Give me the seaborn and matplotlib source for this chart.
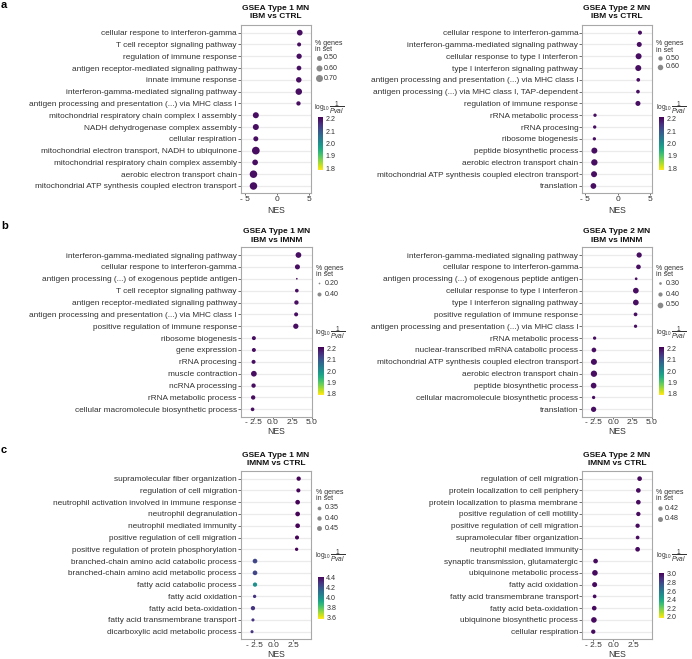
import numpy as np
import pandas as pd
import matplotlib
matplotlib.use("Agg")
import matplotlib.pyplot as plt
import matplotlib.colors as mcolors
import seaborn as sns

# ---------------- data ----------------
# a: IBM vs CTRL
a1_terms = [
    "cellular respone to interferon-gamma",
    "T cell receptor signaling pathway",
    "regulation of immune response",
    "antigen receptor-mediated signaling pathway",
    "innate immune response",
    "interferon-gamma-mediated signaling pathway",
    "antigen processing and presentation (...) via MHC class I",
    "mitochondrial respiratory chain complex I assembly",
    "NADH dehydrogenase complex assembly",
    "cellular respiration",
    "mitochondrial electron transport, NADH to ubiquinone",
    "mitochondrial respiratory chain complex assembly",
    "aerobic electron transport chain",
    "mitochondrial ATP synthesis coupled electron transport",
]
a1_nes = [3.59, 3.49, 3.49, 3.47, 3.44, 3.44, 3.39, -3.28, -3.28, -3.28, -3.28, -3.39, -3.65, -3.65]
a1_ratio = [0.57, 0.40, 0.53, 0.47, 0.55, 0.65, 0.43, 0.60, 0.60, 0.50, 0.77, 0.57, 0.75, 0.75]
a1_logp = [2.2, 2.2, 2.2, 2.2, 2.2, 2.2, 2.2, 2.2, 2.2, 2.2, 2.2, 2.2, 2.2, 2.2]

a2_terms = [
    "cellular respone to interferon-gamma",
    "interferon-gamma-mediated signaling pathway",
    "cellular response to type I interferon",
    "type I interferon signaling pathway",
    "antigen processing and presentation (...) via MHC class I",
    "antigen processing (...) via MHC class I, TAP-dependent",
    "regulation of immune response",
    "rRNA metabolic process",
    "rRNA procesing",
    "ribosome biogenesis",
    "peptide biosynthetic process",
    "aerobic electron transport chain",
    "mitochondrial ATP synthesis coupled electron transport",
    "translation",
]
a2_nes = [3.44, 3.33, 3.23, 3.18, 3.18, 3.13, 3.13, -3.49, -3.54, -3.59, -3.59, -3.59, -3.64, -3.74]
a2_ratio = [0.48, 0.56, 0.64, 0.64, 0.45, 0.45, 0.56, 0.42, 0.42, 0.42, 0.64, 0.67, 0.64, 0.62]
a2_logp = [2.2, 2.2, 2.2, 2.2, 2.2, 2.2, 2.2, 2.2, 2.2, 2.2, 2.2, 2.2, 2.2, 2.2]

# b: IBM vs IMNM
b1_terms = [
    "interferon-gamma-mediated signaling pathway",
    "cellular respone to interferon-gamma",
    "antigen processing (...) of exogenous peptide antigen",
    "T cell receptor signaling pathway",
    "antigen receptor-mediated signaling pathway",
    "antigen processing and presentation (...) via MHC class I",
    "positive regulation of immune response",
    "ribosome biogenesis",
    "gene expression",
    "rRNA procesing",
    "muscle contraction",
    "ncRNA processing",
    "rRNA metabolic process",
    "cellular macromolecule biosynthetic process",
]
b1_nes = [3.30, 3.17, 3.09, 3.09, 3.04, 3.00, 2.96, -2.48, -2.48, -2.52, -2.48, -2.52, -2.57, -2.65]
b1_ratio = [0.55, 0.49, 0.20, 0.37, 0.43, 0.40, 0.51, 0.40, 0.40, 0.40, 0.55, 0.43, 0.43, 0.37]
b1_logp = [2.2, 2.2, 2.2, 2.2, 2.2, 2.2, 2.2, 2.2, 2.2, 2.2, 2.2, 2.2, 2.2, 2.2]

b2_terms = [
    "interferon-gamma-mediated signaling pathway",
    "cellular respone to interferon-gamma",
    "antigen processing (...) of exogenous peptide antigen",
    "cellular response to type I interferon",
    "type I interferon signaling pathway",
    "positive regulation of immune response",
    "antigen processing and presentation (...) via MHC class I",
    "rRNA metabolic process",
    "nuclear-transcribed mRNA catabolic process",
    "mitochondrial ATP synthesis coupled electron transport",
    "aerobic electron transport chain",
    "peptide biosynthetic process",
    "cellular macromolecule biosynthetic process",
    "translation",
]
b2_nes = [3.39, 3.30, 3.00, 2.96, 2.96, 2.92, 2.92, -2.40, -2.49, -2.49, -2.49, -2.53, -2.53, -2.53]
b2_ratio = [0.47, 0.43, 0.30, 0.50, 0.50, 0.37, 0.34, 0.34, 0.43, 0.52, 0.54, 0.50, 0.34, 0.47]
b2_logp = [2.2, 2.2, 2.2, 2.2, 2.2, 2.2, 2.2, 2.2, 2.2, 2.2, 2.2, 2.2, 2.2, 2.2]

# c: IMNM vs CTRL
c1_terms = [
    "supramolecular fiber organization",
    "regulation of cell migration",
    "neutrophil activation involved in immune response",
    "neutrophil degranulation",
    "neutrophil mediated immunity",
    "positive regulation of cell migration",
    "positive regulation of protein phosphorylation",
    "branched-chain amino acid catabolic process",
    "branched-chain amino acid metabolic process",
    "fatty acid catabolic process",
    "fatty acid oxidation",
    "fatty acid beta-oxidation",
    "fatty acid transmembrane transport",
    "dicarboxylic acid metabolic process",
]
c1_nes = [3.18, 3.14, 3.05, 3.05, 3.05, 2.97, 2.92, -2.37, -2.37, -2.37, -2.42, -2.63, -2.63, -2.75]
c1_ratio = [0.40, 0.38, 0.43, 0.43, 0.43, 0.38, 0.32, 0.43, 0.43, 0.40, 0.32, 0.40, 0.30, 0.30]
c1_logp = [4.42, 4.42, 4.42, 4.42, 4.42, 4.42, 4.42, 4.25, 4.25, 4.00, 4.30, 4.30, 4.30, 4.30]

c2_terms = [
    "regulation of cell migration",
    "protein localization to cell periphery",
    "protein localization to plasma membrane",
    "positive regulation of cell motility",
    "positive regulation of cell migration",
    "supramolecular fiber organization",
    "neutrophil mediated immunity",
    "synaptic transmission, glutamatergic",
    "ubiquinone metabolic process",
    "fatty acid oxidation",
    "fatty acid transmembrane transport",
    "fatty acid beta-oxidation",
    "ubiquinone biosynthetic process",
    "cellular respiration",
]
c2_nes = [3.29, 3.13, 3.13, 3.13, 3.04, 3.04, 3.04, -2.21, -2.29, -2.33, -2.33, -2.38, -2.42, -2.50]
c2_ratio = [0.45, 0.45, 0.45, 0.42, 0.42, 0.37, 0.45, 0.45, 0.53, 0.48, 0.37, 0.45, 0.53, 0.42]
c2_logp = [3.0, 3.0, 3.0, 3.0, 3.0, 3.0, 3.0, 3.0, 3.0, 3.0, 3.0, 3.0, 3.0, 3.0]

# legend breaks
a1_size_breaks = [0.50, 0.60, 0.70]
a2_size_breaks = [0.50, 0.60]
b1_size_breaks = [0.20, 0.40]
b2_size_breaks = [0.30, 0.40, 0.50]
c1_size_breaks = [0.35, 0.40, 0.45]
c2_size_breaks = [0.42, 0.48]
ab_color_breaks = [1.8, 1.9, 2.0, 2.1, 2.2]
c1_color_breaks = [3.6, 3.8, 4.0, 4.2, 4.4]
c2_color_breaks = [2.0, 2.2, 2.4, 2.6, 2.8, 3.0]

# ---------------- layout (pixel coordinates) ----------------
panels = [
    dict(terms=a1_terms, nes=a1_nes, ratio=a1_ratio, logp=a1_logp, sbreaks=a1_size_breaks,
         cbreaks=ab_color_breaks, title="GSEA Type 1 MN\nIBM vs CTRL",
         box=(241, 25, 311, 193.3), xlim=(-5.6, 5.35), xticks=[-5, 0, 5], xlabels=["- 5", "0", "5"],
         anchor=(0.5, 5.0, 0.7, 7.0), title_y=12.5, nes_y=213.3, leg_x=315, stitle_y=46.5,
         skeys=[57.7, 68, 78.3], ctitle_y=107.5, bar=(117, 170), clim=(1.784, 2.216)),
    dict(terms=a2_terms, nes=a2_nes, ratio=a2_ratio, logp=a2_logp, sbreaks=a2_size_breaks,
         cbreaks=ab_color_breaks, title="GSEA Type 2 MN\nIBM vs CTRL",
         box=(582.3, 25, 651.7, 193.3), xlim=(-5.45, 5.25), xticks=[-5, 0, 5], xlabels=["- 5", "0", "5"],
         anchor=(0.5, 4.3, 0.6, 5.5), title_y=12.5, nes_y=213.3, leg_x=656.3, stitle_y=46.8,
         skeys=[58.3, 66.7], ctitle_y=107.5, bar=(117, 170), clim=(1.784, 2.216)),
    dict(terms=b1_terms, nes=b1_nes, ratio=b1_ratio, logp=b1_logp, sbreaks=b1_size_breaks,
         cbreaks=ab_color_breaks, title="GSEA Type 1 MN\nIBM vs IMNM",
         box=(241, 247.3, 311.7, 416.7), xlim=(-4.15, 5.02), xticks=[-2.5, 0, 2.5, 5],
         xlabels=["- 2.5", "0.0", "2.5", "5.0"],
         anchor=(0.2, 1.7, 0.4, 4.0), title_y=236, nes_y=434.2, leg_x=315.5, stitle_y=271.5,
         skeys=[283.3, 294], ctitle_y=333, bar=(347.2, 394.8), clim=(1.784, 2.216)),
    dict(terms=b2_terms, nes=b2_nes, ratio=b2_ratio, logp=b2_logp, sbreaks=b2_size_breaks,
         cbreaks=ab_color_breaks, title="GSEA Type 2 MN\nIBM vs IMNM",
         box=(582.3, 247.3, 651.7, 416.7), xlim=(-4.0, 5.02), xticks=[-2.5, 0, 2.5, 5],
         xlabels=["- 2.5", "0.0", "2.5", "5.0"],
         anchor=(0.3, 2.7, 0.5, 5.7), title_y=236, nes_y=434.2, leg_x=656.3, stitle_y=271.5,
         skeys=[283.3, 294, 305], ctitle_y=333.3, bar=(347.2, 394.8), clim=(1.784, 2.216)),
    dict(terms=c1_terms, nes=c1_nes, ratio=c1_ratio, logp=c1_logp, sbreaks=c1_size_breaks,
         cbreaks=c1_color_breaks, title="GSEA Type 1 MN\nIMNM vs CTRL",
         box=(241, 471, 310.7, 639), xlim=(-4.15, 4.71), xticks=[-2.5, 0, 2.5],
         xlabels=["- 2.5", "0.0", "2.5"],
         anchor=(0.35, 3.7, 0.45, 4.9), title_y=459.5, nes_y=657.2, leg_x=315.5, stitle_y=495.5,
         skeys=[507.7, 518.3, 528.3], ctitle_y=556, bar=(576.5, 618.5), clim=(3.57, 4.43)),
    dict(terms=c2_terms, nes=c2_nes, ratio=c2_ratio, logp=c2_logp, sbreaks=c2_size_breaks,
         cbreaks=c2_color_breaks, title="GSEA Type 2 MN\nIMNM vs CTRL",
         box=(582.3, 471, 651.7, 639), xlim=(-3.87, 4.8), xticks=[-2.5, 0, 2.5],
         xlabels=["- 2.5", "0.0", "2.5"],
         anchor=(0.42, 4.3, 0.48, 5.0), title_y=459.5, nes_y=657.2, leg_x=656, stitle_y=495.5,
         skeys=[508.3, 519], ctitle_y=556, bar=(572.7, 618), clim=(1.97, 3.03)),
]
letters = [("a", 5), ("b", 226), ("c", 450)]

sns.set_style("white")
plt.rcParams["font.family"] = ["Liberation Sans", "DejaVu Sans"]
plt.rcParams["mathtext.fontset"] = "custom"
plt.rcParams["mathtext.rm"] = "Liberation Sans"
plt.rcParams["mathtext.it"] = "Liberation Sans:italic"

TXT = "#333333"
cmap = sns.color_palette("viridis_r", as_cmap=True)
W, H = 692, 659
fig = plt.figure(figsize=(W / 100, H / 100), dpi=100)


def rect(l, t, r, b):
    return [l / W, 1 - b / H, (r - l) / W, (b - t) / H]


def dot_area(r, anchor):
    # point size (pt^2) from gene ratio, diameter linear in ratio
    r1, d1, r2, d2 = anchor
    d = d1 + (r - r1) * (d2 - d1) / (r2 - r1)
    return (d * 0.72) ** 2


overlay = fig.add_axes([0, 0, 1, 1], zorder=10)
overlay.set_xlim(0, W)
overlay.set_ylim(H, 0)
overlay.axis("off")

for p in panels:
    l, t, r, b = p["box"]
    ax = fig.add_axes(rect(l, t, r, b))
    df = pd.DataFrame({"term": p["terms"], "NES": p["nes"], "ratio": p["ratio"], "logp": p["logp"]})
    sizes = {v: dot_area(v, p["anchor"]) for v in df["ratio"].unique()}
    sns.scatterplot(data=df, x="NES", y="term", hue="logp", palette=cmap, hue_norm=p["clim"],
                    size="ratio", sizes=sizes, linewidth=0, legend=False, ax=ax, zorder=3)
    n = len(p["terms"])
    ax.set_ylim(n - 1 + 0.62, -0.65)
    ax.set_xlim(*p["xlim"])
    ax.set_xticks(p["xticks"])
    ax.set_xticklabels(p["xlabels"])
    ax.grid(axis="y", color="#ebebeb", linewidth=0.9)
    ax.grid(axis="x", visible=False)
    ax.set_axisbelow(True)
    for s in ax.spines.values():
        s.set_color("#a8a8a8")
        s.set_linewidth(0.8)
    ax.tick_params(axis="y", length=2, width=0.6, color="#555555", pad=1,
                   labelsize=5.95, labelcolor=TXT, left=True)
    ax.tick_params(axis="x", length=1.5, width=0.6, color="#555555", pad=0.4,
                   labelsize=6.0, labelcolor=TXT, bottom=True)
    ax.set_ylabel("")
    ax.set_xlabel("")
    overlay.text((l + r) / 2, p["nes_y"], "NES", ha="center", va="baseline", fontsize=6.2, color=TXT)

    # title
    overlay.text((l + r) / 2, p["title_y"], p["title"], ha="center", va="center",
                 fontsize=6.0, fontweight="bold", color="#111111", linespacing=1.25)

    # size legend
    lx = p["leg_x"]
    overlay.text(lx, p["stitle_y"], "% genes\nin set", ha="left", va="center",
                 fontsize=5, color=TXT, linespacing=0.95)
    for v, ky in zip(p["sbreaks"], p["skeys"]):
        overlay.scatter([lx + 3.8], [ky], s=dot_area(v, p["anchor"]), color="#8a8a8a", linewidth=0)
        overlay.text(lx + 9, ky, f"{v:.2f}", ha="left", va="center", fontsize=5.1, color=TXT)

    # colour bar
    overlay.text(lx - 0.5, p["ctitle_y"], r"$\mathrm{log}_{10}\,\dfrac{1}{Pval}$", ha="left",
                 va="center", fontsize=4.8, color=TXT)
    bt, bb = p["bar"]
    cax = fig.add_axes(rect(lx + 2.5, bt, lx + 8, bb))
    sm = plt.cm.ScalarMappable(norm=mcolors.Normalize(*p["clim"]), cmap=cmap)
    cb = fig.colorbar(sm, cax=cax)
    cb.outline.set_visible(False)
    cb.set_ticks(p["cbreaks"])
    cb.set_ticklabels([f"{v:.1f}" for v in p["cbreaks"]])
    cax.tick_params(left=True, right=True, direction="in", color="white", length=1.4,
                    width=0.6, labelsize=5.1, labelcolor=TXT, pad=2)

for letter, y in letters:
    overlay.text(1, y, letter, ha="left", va="center", fontsize=8, fontweight="bold", color="#000000")

fig.savefig("out.png", dpi=100)
